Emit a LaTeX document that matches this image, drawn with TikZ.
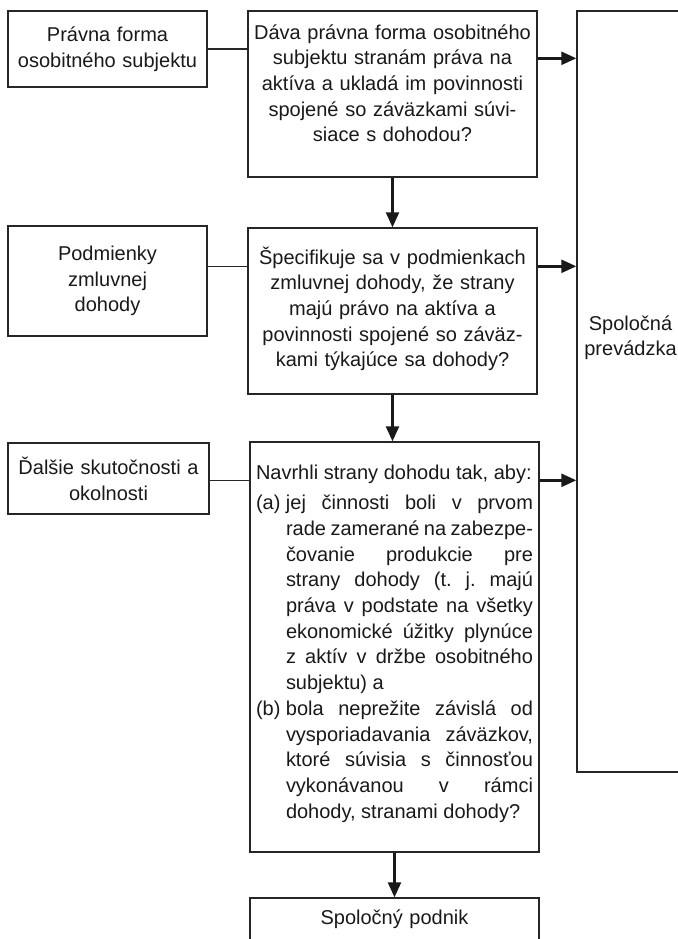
\documentclass[tikz,border=0pt]{standalone}
\usepackage{fontspec}
\setmainfont{Liberation Sans}
\usepackage{tikz}
\usetikzlibrary{arrows.meta}

\begin{document}
\begin{tikzpicture}[x=0.5pt,y=-0.5pt,
            box/.style={draw=black!85,line width=0.7pt,inner sep=0pt,minimum width=#1},
            box/.default=144.5pt,
            txt/.style={font=\fontsize{10pt}{12.85pt}\selectfont,text=black!90,inner sep=0pt,text width=#1,align=center,anchor=base},
            txt/.default=138.5pt,
            side/.style={box=99.5pt,font=\fontsize{10pt}{12.85pt}\selectfont,text=black!90,text width=96pt,align=center},
            link/.style={draw=black!85,line width=0.7pt},
            arr/.style={draw=black!90,line width=1.2pt,-{Triangle[length=7.5pt,width=6.5pt]}}]
            \path[use as bounding box,clip] (0,0) rectangle (678,939);
            \node[side,minimum height=38pt] (forma) at (107.5,49) {Právna forma\\osobitného subjektu};
            \node[side,minimum height=55pt] (podm) at (107.5,281) {Podmienky\\zmluvnej\\dohody};
            \node[side,minimum width=100.5pt,minimum height=35.5pt] (dalsie) at (108.5,478.5) {Ďalšie skutočnosti a\\okolnosti};
            \node[box,minimum height=83pt] (q1) at (392.5,94) {};
            \node[box,minimum height=83pt] (q2) at (392.5,311) {};
            \node[box,minimum height=205pt] (q3) at (394.5,647) {};
            \node[box=53.5pt,minimum height=380.5pt] (prev) at (630.5,391.5) {};
            \node[box,minimum height=32pt] (podnik) at (394.5,930) {};
            \node[txt] (q1t) at (392.5,39) {Dáva právna forma osobitného\\subjektu stranám práva na\\aktíva a ukladá im povinnosti\\spojené so záväzkami súvi-\\siace s dohodou?};
            \node[txt] (q2t) at (392.5,264) {Špecifikuje sa v podmienkach\\zmluvnej dohody, že strany\\majú právo na aktíva a\\povinnosti spojené so záväz-\\kami týkajúce sa dohody?};
            \node[txt,align=justify] (q3t) at (394.5,479) {\frenchspacing\tolerance=10000\hyphenpenalty=10000
                Navrhli strany dohodu tak, aby:\par\vspace{2.5pt}
                \hangindent=15pt\hangafter=1\makebox[15pt][l]{(a)}jej činnosti boli v prvom\linebreak rade zamerané na zabezpe-\linebreak čovanie produkcie pre\linebreak strany dohody (t. j. majú\linebreak práva v podstate na všetky\linebreak ekonomické úžitky plynúce\linebreak z aktív v držbe osobitného\linebreak subjektu) a\par
                \hangindent=15pt\hangafter=1\makebox[15pt][l]{(b)}bola neprežite závislá od\linebreak vysporiadavania záväzkov,\linebreak ktoré súvisia s činnosťou\linebreak vykonávanou v rámci\linebreak dohody, stranami dohody?\par};
            \node[txt=50pt] (prevt) at (630.5,330) {Spoločná\\prevádzka};
            \node[txt] (podnikt) at (394.5,924) {Spoločný podnik};
            \coordinate (r1) at ([yshift=-24pt]q1.north east);
            \coordinate (r2) at ([yshift=-19.5pt]q2.north east);
            \coordinate (r3) at ([yshift=-19.5pt]q3.north east);
            \coordinate (l2) at ([yshift=-19.5pt]q2.north west);
            \coordinate (l3) at ([yshift=-19.5pt]q3.north west);
            \draw[link] (forma.east) -- (forma.east -| q1.west);
            \draw[link] (l2 -| podm.east) -- (l2);
            \draw[link] (l3 -| dalsie.east) -- (l3);
            \draw[arr] (r1) -- (r1 -| prev.west);
            \draw[arr] (r2) -- (r2 -| prev.west);
            \draw[arr] (r3) -- (r3 -| prev.west);
            \draw[arr] (q1.south) -- (q2.north);
            \draw[arr] (q2.south) -- (q2.south |- q3.north);
            \draw[arr] (q3.south) -- (podnik.north);
\end{tikzpicture}
\end{document}
